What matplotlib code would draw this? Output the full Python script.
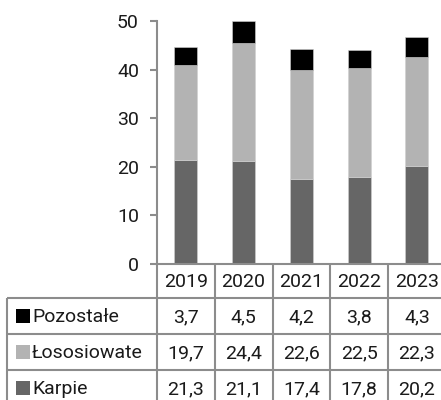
import matplotlib
matplotlib.use("Agg")
import matplotlib.pyplot as plt
from matplotlib.patches import Rectangle

plt.rcParams['font.family'] = ['Roboto', 'DejaVu Sans']

years = ["2019", "2020", "2021", "2022", "2023"]
series_names = ["Pozostałe", "Łososiowate", "Karpie"]
pozostale = [3.7, 4.5, 4.2, 3.8, 4.3]
lososiowate = [19.7, 24.4, 22.6, 22.5, 22.3]
karpie = [21.3, 21.1, 17.4, 17.8, 20.2]
y_ticks = [0, 10, 20, 30, 40, 50]

colors = {"Karpie": "#666666", "Łososiowate": "#b3b3b3", "Pozostałe": "#000000"}
grid_col = "#8c8c8c"
txt_col = "#1a1a1a"
fs = 14

W, H = 441, 400
fig = plt.figure(figsize=(W / 100, H / 100), dpi=100)

# plot area geometry in pixels
x0, col_w = 157, 57.75
y_zero, y_top = 264, 21
ax = fig.add_axes([x0 / W, (H - y_zero) / H, 5 * col_w / W, (y_zero - y_top) / H])
ax.set_xlim(-0.5, 4.5)
ax.set_ylim(0, 50)

xs = range(len(years))
bw = 0.4
bottom2 = karpie
bottom3 = [a + b for a, b in zip(karpie, lososiowate)]
ax.bar(xs, karpie, bw, color=colors["Karpie"], edgecolor="#d0d0d0", linewidth=0.4)
ax.bar(xs, lososiowate, bw, bottom=bottom2, color=colors["Łososiowate"], edgecolor="#d0d0d0", linewidth=0.4)
ax.bar(xs, pozostale, bw, bottom=bottom3, color=colors["Pozostałe"], edgecolor="#d0d0d0", linewidth=0.4)

for s in ["top", "right"]:
    ax.spines[s].set_visible(False)
for s in ["left", "bottom"]:
    ax.spines[s].set_color(grid_col)
    ax.spines[s].set_linewidth(1.5)
ax.set_yticks(y_ticks)
ax.set_yticklabels([str(t) for t in y_ticks], fontsize=fs, color=txt_col)
ax.tick_params(axis="y", length=5, width=1.5, color=grid_col, pad=8)
ax.set_xticks([])

# data table drawn in figure pixel coordinates
tax = fig.add_axes([0, 0, 1, 1])
tax.set_xlim(0, W)
tax.set_ylim(H, 0)
tax.axis("off")

row_lines = [298, 334, 370, 406]
left = 7
right = x0 + 5 * col_w
lw = 1.5

# vertical separators
for i in range(6):
    xv = x0 + i * col_w
    tax.plot([xv, xv], [y_zero, 406], color=grid_col, lw=lw, solid_capstyle="butt")
tax.plot([left, left], [row_lines[0], 406], color=grid_col, lw=lw, solid_capstyle="butt")
# horizontal separators
for yl in row_lines:
    tax.plot([left, right], [yl, yl], color=grid_col, lw=lw, solid_capstyle="butt")

# header
hy = (y_zero + row_lines[0]) / 2
for i, yr in enumerate(years):
    tax.text(x0 + (i + 0.5) * col_w, hy + 1, yr, ha="center", va="center", fontsize=fs, color=txt_col)

rows = {"Pozostałe": pozostale, "Łososiowate": lososiowate, "Karpie": karpie}
for r, name in enumerate(series_names):
    cy = (row_lines[r] + row_lines[r + 1]) / 2
    tax.add_patch(Rectangle((16, cy - 7), 14, 14, color=colors[name], lw=0))
    tax.text(32, cy + 1, name, ha="left", va="center", fontsize=fs, color=txt_col)
    for i, v in enumerate(rows[name]):
        tax.text(x0 + (i + 0.5) * col_w, cy + 1, f"{v:.1f}".replace(".", ","),
                 ha="center", va="center", fontsize=fs, color=txt_col)

fig.savefig("out.png", dpi=100)
